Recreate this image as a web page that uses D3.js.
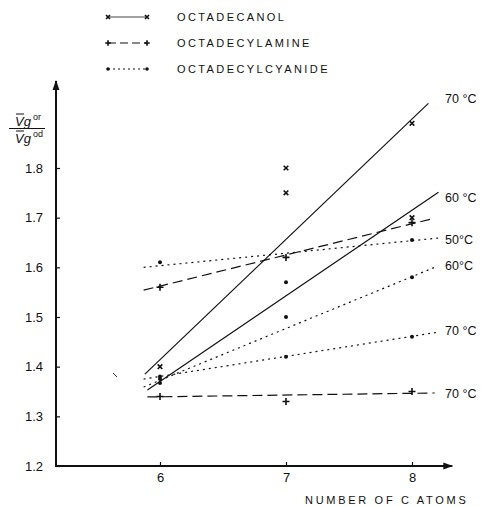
<!DOCTYPE html>
<html>
<head>
<meta charset="utf-8">
<script src="https://cdn.jsdelivr.net/npm/d3@7"></script>
<style>
  body { margin: 0; background: #fff; }
  text { font-family: "Liberation Sans", Arial, sans-serif; fill: #111; }
</style>
</head>
<body>
<div id="chart"></div>
<script>
// Data
const carbonAtoms = [6, 7, 8];
const yTicks = [1.2, 1.3, 1.4, 1.5, 1.6, 1.7, 1.8];

const legendNames = ["OCTADECANOL", "OCTADECYLAMINE", "OCTADECYLCYANIDE"];

// measured points [n, ratio]
const octadecanolPts = [[6, 1.40], [7, 1.80], [7, 1.75], [8, 1.89], [8, 1.70]];
const aminePts = [[6, 1.56], [6, 1.34], [7, 1.62], [7, 1.33], [8, 1.69], [8, 1.35]];
const cyanidePts = [[6, 1.61], [6, 1.38], [6, 1.375], [6, 1.367], [7, 1.57], [7, 1.50], [7, 1.42],
                    [8, 1.655], [8, 1.58], [8, 1.46]];

// fitted lines: start n, start ratio, end n, end ratio
const fitSeries = ["ol", "ol", "amine", "amine", "cyan", "cyan", "cyan"];
const fitStart = [[5.88, 1.385], [5.90, 1.353], [5.87, 1.554], [5.90, 1.339], [5.87, 1.600], [5.87, 1.359], [5.87, 1.375]];
const fitEnd = [[8.13, 1.93], [8.21, 1.751], [8.18, 1.699], [8.18, 1.347], [8.21, 1.659], [8.18, 1.600], [8.22, 1.470]];
const fitLabels = ["70 °C", "60 °C", "", "70 °C", "50°C", "60°C", "70 °C"];
const labelValues = [1.94, 1.74, null, 1.346, 1.656, 1.604, 1.472];

const width = 481, height = 507;

const x = d3.scaleLinear().domain([6, 8]).range([160, 412]);
const y = d3.scaleLinear().domain([1.2, 1.8]).range([466, 168]);

const svg = d3.select("#chart").append("svg")
    .attr("width", width)
    .attr("height", height);

const dashes = { ol: null, amine: "10,5", cyan: "2,4" };

// arrowhead
svg.append("defs").append("marker")
    .attr("id", "arrow")
    .attr("viewBox", "0 0 10 10")
    .attr("refX", 9).attr("refY", 5)
    .attr("markerWidth", 5).attr("markerHeight", 5)
    .attr("orient", "auto")
    .append("path")
    .attr("d", "M0,1.5 L10,5 L0,8.5 Z")
    .attr("fill", "#111");

// Axes
const yAxis = d3.axisLeft(y).tickValues(yTicks).tickFormat(d3.format(".1f"))
    .tickSizeInner(-4).tickSizeOuter(0).tickPadding(13);
const gy = svg.append("g").attr("transform", `translate(${x.range()[0] - 104},0)`).call(yAxis);
gy.select(".domain").remove();
gy.selectAll("text").style("font-size", "13px").style("font-family", "Liberation Sans, Arial, sans-serif");
gy.selectAll("line").attr("stroke", "#111").attr("stroke-width", 1.2);

const xAxis = d3.axisBottom(x).tickValues(carbonAtoms).tickFormat(d3.format("d"))
    .tickSizeInner(-4).tickSizeOuter(0).tickPadding(7);
const gx = svg.append("g").attr("transform", `translate(0,${y(1.2)})`).call(xAxis);
gx.select(".domain").remove();
gx.selectAll("text").style("font-size", "13px").style("font-family", "Liberation Sans, Arial, sans-serif");
gx.selectAll("line").attr("stroke", "#111").attr("stroke-width", 1.2);

const x0 = x.invert(56);
svg.append("line")
    .attr("x1", x(x0)).attr("y1", y(1.2))
    .attr("x2", x(x0)).attr("y2", y(1.975))
    .attr("stroke", "#111").attr("stroke-width", 2)
    .attr("marker-end", "url(#arrow)");
svg.append("line")
    .attr("x1", x(x0) - 1).attr("y1", y(1.2))
    .attr("x2", x(8.32)).attr("y2", y(1.2))
    .attr("stroke", "#111").attr("stroke-width", 2)
    .attr("marker-end", "url(#arrow)");

// fitted lines
svg.append("g").selectAll("line")
    .data(fitSeries.map((s, i) => ({ s, a: fitStart[i], b: fitEnd[i] })))
    .join("line")
    .attr("x1", d => x(d.a[0])).attr("y1", d => y(d.a[1]))
    .attr("x2", d => x(d.b[0])).attr("y2", d => y(d.b[1]))
    .attr("stroke", "#111").attr("stroke-width", 1.2)
    .attr("stroke-dasharray", d => dashes[d.s]);

// line labels
svg.append("g").selectAll("text")
    .data(fitLabels.map((t, i) => ({ t, v: labelValues[i], n: fitEnd[i][0] })).filter(d => d.t))
    .join("text")
    .attr("x", x(8) + 33)
    .attr("y", d => y(d.v))
    .attr("dy", "0.36em")
    .style("font-size", "12.5px")
    .text(d => d.t);

// marker drawers
function cross(g, cx, cy, r) {
    g.append("path")
        .attr("d", `M${cx - r},${cy - r}L${cx + r},${cy + r}M${cx - r},${cy + r}L${cx + r},${cy - r}`)
        .attr("stroke", "#111").attr("stroke-width", 1.6);
}
function plus(g, cx, cy, r) {
    g.append("path")
        .attr("d", `M${cx - r},${cy}L${cx + r},${cy}M${cx},${cy - r}L${cx},${cy + r}`)
        .attr("stroke", "#111").attr("stroke-width", 1.6);
}
function dot(g, cx, cy, r) {
    g.append("circle").attr("cx", cx).attr("cy", cy).attr("r", r).attr("fill", "#111");
}

const pts = svg.append("g");
octadecanolPts.forEach(d => cross(pts, x(d[0]), y(d[1]), 2.3));
aminePts.forEach(d => plus(pts, x(d[0]), y(d[1]), 3.5));
cyanidePts.forEach(d => dot(pts, x(d[0]), y(d[1]), 2));

// small stray stroke in the original figure
svg.append("line")
    .attr("x1", 113).attr("y1", 373).attr("x2", 117).attr("y2", 377)
    .attr("stroke", "#333").attr("stroke-width", 1);

// Legend
const legendY = [17, 43, 69];
const legend = svg.append("g");
legendNames.forEach((name, i) => {
    const ly = legendY[i];
    const key = ["ol", "amine", "cyan"][i];
    legend.append("line")
        .attr("x1", 108).attr("x2", 147).attr("y1", ly).attr("y2", ly)
        .attr("stroke", "#111").attr("stroke-width", key === "ol" ? 0.8 : 1.2)
        .attr("stroke-dasharray", key === "amine" ? "8,4" : key === "cyan" ? "2,3" : null);
    [108, 147].forEach(cx => {
        if (key === "ol") cross(legend, cx, ly, 2);
        else if (key === "amine") plus(legend, cx, ly, 2.8);
        else dot(legend, cx, ly, 1.8);
    });
    legend.append("text")
        .attr("x", 177).attr("y", ly).attr("dy", "0.36em")
        .style("font-size", "11px").style("letter-spacing", "2.4px")
        .text(name);
});

// x-axis title
svg.append("text")
    .attr("x", 305).attr("y", 500.5).attr("dy", "0.36em")
    .style("font-size", "11px").style("letter-spacing", "2.7px")
    .text("NUMBER OF C ATOMS");

// y-axis label as a fraction
const yl = svg.append("g").style("font-style", "italic");
const numer = yl.append("text").attr("x", 15).attr("y", 126).style("font-size", "13px");
numer.append("tspan").text("V");
numer.append("tspan").text("g");
numer.append("tspan").attr("dy", -6).attr("dx", 2).style("font-size", "9px").style("font-style", "normal").text("or");
const denom = yl.append("text").attr("x", 15).attr("y", 143).style("font-size", "13px");
denom.append("tspan").text("V");
denom.append("tspan").text("g");
denom.append("tspan").attr("dy", -6).attr("dx", 2).style("font-size", "9px").style("font-style", "normal").text("od");
// overbars and fraction line
[[16, 24, 114], [16, 24, 131]].forEach(b => {
    yl.append("line").attr("x1", b[0]).attr("x2", b[1]).attr("y1", b[2]).attr("y2", b[2])
        .attr("stroke", "#111").attr("stroke-width", 1);
});
yl.append("line").attr("x1", 9).attr("x2", 45).attr("y1", 128.5).attr("y2", 128.5)
    .attr("stroke", "#111").attr("stroke-width", 1.2);
</script>
</body>
</html>
